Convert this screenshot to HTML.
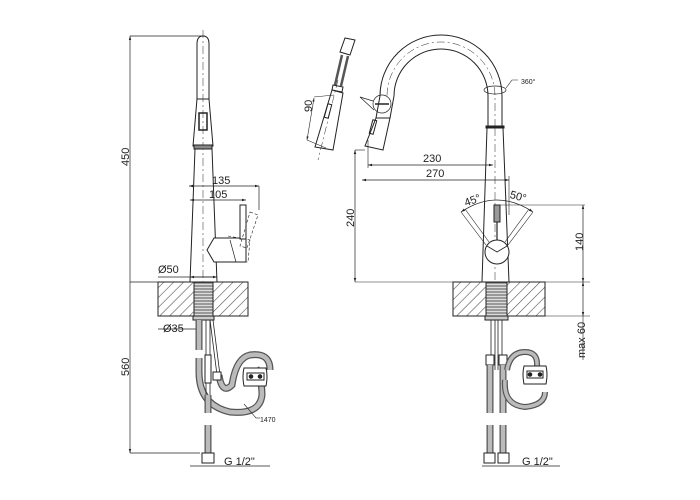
<!DOCTYPE html>
<html><head><meta charset="utf-8"><style>
html,body{margin:0;padding:0;background:#fff;width:700px;height:500px;overflow:hidden}
svg{display:block}
text{font-family:"Liberation Sans",sans-serif;fill:#222}
</style></head><body>
<svg width="700" height="500" viewBox="0 0 700 500" xmlns="http://www.w3.org/2000/svg">
<defs>
<pattern id="h" width="7" height="7" patternUnits="userSpaceOnUse" patternTransform="rotate(45)">
<rect width="7" height="7" fill="#fff"/><line x1="0" y1="0" x2="0" y2="7" stroke="#555" stroke-width="1.2"/>
</pattern>
<pattern id="th" width="4" height="3" patternUnits="userSpaceOnUse">
<rect width="4" height="3" fill="#ddd"/><line x1="0" y1="1" x2="4" y2="1" stroke="#555" stroke-width="1"/>
</pattern>
<marker id="a" viewBox="0 0 10 10" refX="10" refY="5" markerWidth="6" markerHeight="6" orient="auto-start-reverse"><path d="M0,2 L10,5 L0,8z" fill="#222"/></marker>
</defs>
<g stroke="#222" fill="none" stroke-width="1">

<!-- LEFT VIEW -->
<line x1="130" y1="36" x2="205" y2="36" stroke-width="0.7"/>
<line x1="130" y1="36" x2="130" y2="453" stroke-width="0.7" marker-start="url(#a)" marker-end="url(#a)"/>
<line x1="130" y1="282" x2="160" y2="282" stroke-width="0.7"/>
<line x1="130" y1="453" x2="200" y2="453" stroke-width="0.7"/>
<line x1="189" y1="186" x2="259" y2="186" stroke-width="0.7" marker-start="url(#a)" marker-end="url(#a)"/>
<line x1="259" y1="186" x2="259" y2="210" stroke-width="0.7"/>
<line x1="190" y1="200" x2="246" y2="200" stroke-width="0.7" marker-start="url(#a)" marker-end="url(#a)"/>
<line x1="158" y1="277" x2="217" y2="277" stroke-width="0.7"/>
<line x1="190" y1="277" x2="217" y2="277" stroke-width="0.7" marker-start="url(#a)" marker-end="url(#a)"/>
<line x1="158" y1="329" x2="200" y2="329" stroke-width="0.7"/>
<line x1="190" y1="466" x2="270" y2="466" stroke-width="0.7"/>
<line x1="203" y1="30" x2="203" y2="282" stroke-width="0.5" stroke-dasharray="8,3,2,3"/>
<path d="M197,100 L197,44 Q197,36 203,36 Q209,36 209,44 L209,100"/>
<path d="M197,99 L209,99 L213,146 L193,146 Z"/>
<rect x="199" y="113" width="8" height="17" stroke-width="1.5"/>
<rect x="194" y="145" width="18" height="4" fill="#888"/>
<path d="M195,149 L190,282 M212,149 L217,282"/>
<path d="M214,238 L207,250 L214,262 L246,262 L246,238 Z" fill="#fff"/>
<path d="M230,240 L236,262" stroke-width="0.7"/>
<rect x="240" y="205" width="6" height="34" fill="#fff"/>
<path d="M250,212 L258,215 L247,248 L240,246 Z" stroke-width="0.6" stroke-dasharray="3,2"/>
<path d="M228,236 L250,240 L248,262 L228,262" stroke-width="0.6" stroke-dasharray="3,2"/>
<rect x="158" y="282" width="90" height="34" fill="url(#h)"/>
<rect x="194" y="282" width="19" height="34" fill="url(#th)"/>
<rect x="193" y="316" width="21" height="4" fill="#ccc"/>
<g stroke-linecap="butt">
<path d="M199,320 L199,350 M199,358 L199,372 Q199,405 230,412 Q260,415 262,395 Q262,380 256,368" stroke="#555" stroke-width="7"/>
<path d="M199,320 L199,350 M199,358 L199,372 Q199,405 230,412 Q260,415 262,395 Q262,380 256,368" stroke="#bbb" stroke-width="4.5"/>
<path d="M208,395 L208,413 M208,425 L208,453" stroke="#555" stroke-width="7"/>
<path d="M208,395 L208,413 M208,425 L208,453" stroke="#bbb" stroke-width="4.5"/>
<path d="M219,375 Q222,395 232,385 Q236,358 250,355 Q270,352 270,370" stroke="#555" stroke-width="7"/>
<path d="M219,375 Q222,395 232,385 Q236,358 250,355 Q270,352 270,370" stroke="#bbb" stroke-width="4.5"/>
</g>
<path d="M206,320 L206,395 M210,320 L210,395" stroke-width="0.8"/>
<rect x="205" y="355" width="6" height="28" fill="#fff"/>
<path d="M210,320 L217,375 M213,320 L220,375" stroke-width="0.8"/>
<rect x="213" y="372" width="8" height="8" fill="#fff"/>
<path d="M244,368 Q242,376 244,386 L266,386 Q268,376 266,368 Z" fill="#fff"/>
<rect x="247" y="373" width="17" height="7" fill="#fff"/>
<circle cx="251" cy="376.5" r="1.8" fill="#222"/><circle cx="260" cy="376.5" r="1.8" fill="#222"/>
<rect x="202" y="453" width="12" height="10" fill="#fff"/>
<path d="M244,404 L256,418" stroke-width="0.6"/>
<line x1="256" y1="418" x2="260" y2="418" stroke-width="0.6"/>

<!-- HANDSHOWER DETACHED -->
<path d="M345,38 L355,40 L350,55 L340,52 Z" fill="#fff"/>
<path d="M342,55 L335,85 M348,56 L341,86" stroke-width="2.5" stroke="#555"/>
<path d="M333,85 L343,87 L342,92 L332,90 Z" fill="#fff"/>
<path d="M332,90 L343,93 L333,150 L315,147 Z" fill="#fff"/>
<rect x="326" y="104" width="4" height="14" transform="rotate(15 328 111)"/>
<path d="M338,80 L318,160" stroke-width="0.5" stroke-dasharray="8,3,2,3"/>
<path d="M314,97 L334,95 M307,140 L326,148" stroke-width="0.6"/>
<line x1="314" y1="98" x2="307" y2="140" stroke-width="0.6" marker-start="url(#a)" marker-end="url(#a)"/>

<!-- RIGHT VIEW -->
<path d="M502,127 L502,96 A61,61 0 0 0 380,96 L376,118"/>
<path d="M488,127 L488,96 A47,47 0 0 0 394,96 L390,118"/>
<path d="M495,127 L495,96 A54,54 0 0 0 387,96" stroke-width="0.5" stroke-dasharray="8,3,2,3"/>
<path d="M376,118 L390,118 L383,150 L365,146 Z" fill="#fff"/>
<rect x="371" y="120" width="4" height="14" transform="rotate(15 373 127)"/>
<line x1="375" y1="104" x2="389" y2="104" stroke-width="1.5"/>
<circle cx="382" cy="104" r="9" stroke-width="0.7"/>
<path d="M373,101 L360,97 L374,110" stroke-width="0.7"/>
<ellipse cx="495" cy="90" rx="11" ry="4" stroke-width="0.7"/>
<path d="M506,88 L512,80 L518,80" stroke-width="0.6"/>
<rect x="486" y="126" width="18" height="2" fill="#222"/>
<path d="M487,128 L482,282 M503,128 L509,282"/>
<line x1="495" y1="128" x2="495" y2="282" stroke-width="0.5" stroke-dasharray="8,3,2,3"/>
<line x1="368" y1="165" x2="493" y2="165" stroke-width="0.7" marker-start="url(#a)" marker-end="url(#a)"/>
<line x1="362" y1="180" x2="509" y2="180" stroke-width="0.7" marker-start="url(#a)" marker-end="url(#a)"/>
<line x1="368" y1="140" x2="368" y2="168" stroke-width="0.6"/>
<line x1="509" y1="176" x2="509" y2="215" stroke-width="0.6"/>
<line x1="355" y1="150" x2="365" y2="150" stroke-width="0.6"/>
<line x1="355" y1="150" x2="355" y2="282" stroke-width="0.7" marker-start="url(#a)" marker-end="url(#a)"/>
<line x1="355" y1="282" x2="590" y2="282" stroke-width="0.6"/>
<line x1="500" y1="205" x2="585" y2="205" stroke-width="0.6"/>
<line x1="583" y1="205" x2="583" y2="282" stroke-width="0.7" marker-start="url(#a)" marker-end="url(#a)"/>
<line x1="545" y1="316" x2="590" y2="316" stroke-width="0.6"/>
<line x1="583" y1="282" x2="583" y2="316" stroke-width="0.7" marker-start="url(#a)" marker-end="url(#a)"/>
<line x1="583" y1="316" x2="583" y2="360" stroke-width="0.6"/>
<path d="M461,212 Q497,188 533,212" stroke-width="0.7" marker-start="url(#a)" marker-end="url(#a)"/>
<path d="M461,212 L486,245 M465,209 L489,242" stroke-width="0.6"/>
<path d="M533,212 L508,245 M529,209 L505,242" stroke-width="0.6"/>
<line x1="497" y1="222" x2="497" y2="241" stroke-width="1.2"/>
<rect x="494" y="205" width="6" height="17" fill="#999"/>
<circle cx="497" cy="252" r="12" fill="#fff"/>
<path d="M487,246 L497,252 L507,246" stroke-width="0.8"/>
<rect x="453" y="282" width="92" height="34" fill="url(#h)"/>
<rect x="486" y="282" width="21" height="34" fill="url(#th)"/>
<rect x="485" y="316" width="23" height="4" fill="#ccc"/>
<path d="M491,320 L491,355 M502,320 L502,355 M495,320 L495,370 M498,320 L498,370" stroke-width="0.8"/>
<rect x="486" y="355" width="8" height="10" fill="#fff"/>
<rect x="499" y="355" width="8" height="10" fill="#fff"/>
<g>
<path d="M490,365 L490,413 M490,425 L490,453 M503,365 L503,413 M503,425 L503,453" stroke="#555" stroke-width="7"/>
<path d="M490,365 L490,413 M490,425 L490,453 M503,365 L503,413 M503,425 L503,453" stroke="#bbb" stroke-width="4.5"/>
<path d="M505,380 Q503,405 525,407 Q545,405 545,392 M507,370 Q510,352 525,352 Q538,352 537,366" stroke="#555" stroke-width="6"/>
<path d="M505,380 Q503,405 525,407 Q545,405 545,392 M507,370 Q510,352 525,352 Q538,352 537,366" stroke="#bbb" stroke-width="3.5"/>
</g>
<path d="M524,366 Q522,374 524,384 L546,384 Q548,374 546,366 Z" fill="#fff"/>
<rect x="527" y="371" width="16" height="7" fill="#fff"/>
<circle cx="530" cy="374.5" r="1.8" fill="#222"/><circle cx="540" cy="374.5" r="1.8" fill="#222"/>
<rect x="484" y="453" width="11" height="10" fill="#fff"/>
<rect x="498" y="453" width="11" height="10" fill="#fff"/>
<line x1="482" y1="466" x2="560" y2="466" stroke-width="0.7"/>
</g>

<g font-size="11">
<text x="118" y="165" transform="rotate(-90 124 160)">450</text>
<text x="118" y="375" transform="rotate(-90 124 370)">560</text>
<text x="212" y="184">135</text>
<text x="209" y="198">105</text>
<text x="158" y="273">Ø50</text>
<text x="163" y="332">Ø35</text>
<text x="224" y="465">G 1/2"</text>
<text x="260" y="422" font-size="7">1470</text>
<text x="302" y="112" transform="rotate(-90 307 107)">90</text>
<text x="521" y="84" font-size="7">360°</text>
<text x="423" y="162">230</text>
<text x="426" y="177">270</text>
<text x="341" y="226" transform="rotate(-90 348 220)">240</text>
<text x="464" y="204" transform="rotate(-20 472 200)">45°</text>
<text x="510" y="200" transform="rotate(15 518 196)">50°</text>
<text x="571" y="249" transform="rotate(-90 578 244)">140</text>
<text x="562" y="345" transform="rotate(-90 580 340)">max 60</text>
<text x="522" y="465">G 1/2"</text>
</g>
</svg>
</body></html>
